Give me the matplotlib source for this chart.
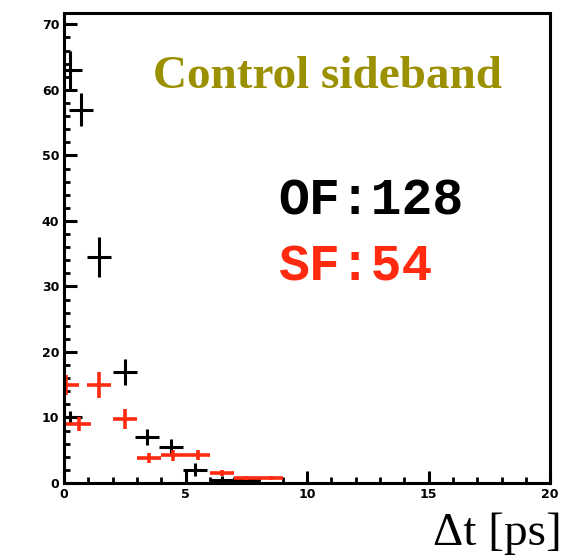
import numpy as np
import matplotlib.pyplot as plt
from matplotlib.ticker import MultipleLocator

# opposite flavour (black) points
of_t = [0.25, 0.7, 1.45, 2.5, 3.4, 4.4, 5.4, 6.5, 7.5, 0.25]
of_n = [63, 57, 34.5, 17, 7, 5.5, 2, 0.5, 0.5, 10]
of_err = [3, 2.5, 3, 2, 1.2, 1.2, 1, 0.5, 0.5, 1]

# same flavour (red) points
sf_t = [0.1, 0.6, 1.45, 2.5, 3.5, 4.5, 5.5, 6.5, 7.5, 8.5]
sf_n = [15, 9, 15, 9.8, 3.8, 4.2, 4.3, 1.5, 0.8, 0.8]
sf_err = [1.5, 1, 2, 1.5, 0.8, 0.8, 0.8, 0.5, 0.3, 0.3]

fig = plt.figure(figsize=(5.62, 5.60), dpi=100)
ax = fig.add_axes([0.114, 0.1375, 0.865, 0.84])

ax.errorbar(of_t, of_n, xerr=0.5, yerr=of_err, fmt='none', ecolor='black',
            elinewidth=2.2, capsize=0)
ax.errorbar(sf_t, sf_n, xerr=0.5, yerr=sf_err, fmt='none', ecolor='#ff2a10',
            elinewidth=2.6, capsize=0)

ax.set_xlim(0, 20)
ax.set_ylim(0, 71.8)
ax.xaxis.set_major_locator(MultipleLocator(5))
ax.xaxis.set_minor_locator(MultipleLocator(1))
ax.yaxis.set_major_locator(MultipleLocator(10))
ax.yaxis.set_minor_locator(MultipleLocator(2))
ax.tick_params(which='major', direction='in', length=9, width=2.2)
ax.tick_params(which='minor', direction='in', length=4, width=2)
ax.tick_params(top=False, right=False, which='both')
for lab in ax.get_xticklabels() + ax.get_yticklabels():
    lab.set_fontweight('bold')
    lab.set_fontsize(9)
for s in ax.spines.values():
    s.set_linewidth(2.2)

ax.text(0.541, 0.84, 'Control sideband', transform=ax.transAxes, ha='center',
        va='baseline', fontsize=34, fontweight='bold', family='Liberation Serif',
        color='#9a9000')
ax.text(0.44, 0.57, 'OF:128', transform=ax.transAxes, ha='left', va='baseline',
        fontsize=37, fontweight='bold', family='Liberation Mono', color='black')
ax.text(0.44, 0.4315, 'SF:54', transform=ax.transAxes, ha='left', va='baseline',
        fontsize=37, fontweight='bold', family='Liberation Mono', color='#ff2a10')

fig.text(0.999, 0.027, 'Δt [ps]', ha='right', va='baseline',
         fontsize=34, family='Liberation Serif')

fig.savefig('out.png', dpi=100)
